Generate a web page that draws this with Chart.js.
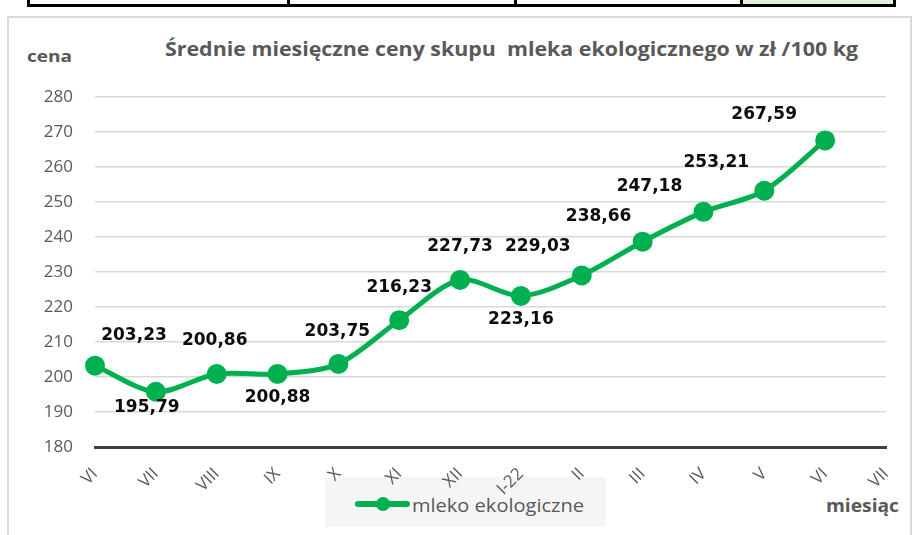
<!DOCTYPE html>
<html>
<head>
<meta charset="utf-8">
<script src="https://cdn.jsdelivr.net/npm/chart.js@4"></script>
<style>
    body { margin: 0; background: #fff; }
    #wrap { position: relative; width: 917px; height: 535px; overflow: hidden; font-family: "Open Sans", sans-serif; }
    #frame { position: absolute; left: 7px; top: 16px; width: 905px; height: 530px; border: 2px solid #d9d9d9; box-sizing: border-box; }
    .strip { position: absolute; top: 0; height: 7px; border-right: 3px solid #000; border-bottom: 3px solid #000; box-sizing: border-box; }
    .txt { position: absolute; color: #595959; white-space: pre; transform-origin: 0 50%; }
    #legend { position: absolute; left: 325px; top: 477px; width: 281px; height: 50px; background: #f5f5f5; }
    #legend .line { position: absolute; left: 30px; top: 27px; width: 55px; height: 6px; margin-top: -3px; background: #00b050; border-radius: 3px; }
    #legend .dot { position: absolute; left: 51px; top: 23px; width: 14px; height: 14px; margin-top: -3px; background: #00b050; border-radius: 50%; }
    canvas { position: absolute; left: 0; top: 0; }
</style>
</head>
<body>
<div id="wrap">
    <div class="strip" style="left:27px;width:263px;border-left:3px solid #000;"></div>
    <div class="strip" style="left:290px;width:227px;"></div>
    <div class="strip" style="left:517px;width:226px;"></div>
    <div class="strip" style="left:743px;width:153px;background:#e2f0d9;"></div>
    <div id="frame"></div>
    <div class="txt" data-w="45" style="left:27px;top:45px;font-size:16px;font-weight:bold;">cena</div>
    <div class="txt" data-w="693" style="left:165px;top:36px;font-size:19px;font-weight:bold;">Średnie miesięczne ceny skupu  mleka ekologicznego w zł /100 kg</div>
    <div class="txt" data-w="73" style="left:826px;top:494px;font-size:17px;font-weight:bold;">miesiąc</div>
    <div id="legend">
        <div class="line"></div>
        <div class="dot"></div>
        <div class="txt" data-w="172" style="left:87px;top:16px;font-size:18px;">mleko ekologiczne</div>
    </div>
    <canvas id="lineGraph" width="917" height="535"></canvas>
</div>
<script>
"use strict";

const months = ["VI", "VII", "VIII", "IX", "X", "XI", "XII", "I-22", "II", "III", "IV", "V", "VI", "VII"];
const prices = [203.23, 195.79, 200.86, 200.88, 203.75, 216.23, 227.73, 223.16, 229.03, 238.66, 247.18, 253.21, 267.59, null];
const yTicks = [180, 190, 200, 210, 220, 230, 240, 250, 260, 270, 280];

// where each value label sits relative to its point (px)
const labelShift = [
    [39, -30], [-9, 16], [-2, -33], [0, 24], [-1, -32], [0, -33], [0, -33],
    [0, 24], [-44, -29], [-44, -25], [-54, -25], [-48, -28], [-61, -26]
];

// the original text is a bit wider than our fonts, stretch to fit
function fitTexts()
{
    for (const el of document.querySelectorAll(".txt[data-w]")) {
        const w = el.getBoundingClientRect().width;
        el.style.transform = `scaleX(${el.dataset.w / w})`;
    }
}

function formatValue(v)
{
    return v.toFixed(2).replace(".", ",");
}

const valueLabels = {
    id: "valueLabels",
    afterDatasetsDraw(chart) {
        const ctx = chart.ctx;
        const meta = chart.getDatasetMeta(0);
        ctx.save();
        ctx.font = "bold 17px 'DejaVu Sans'";
        ctx.fillStyle = "#0d0d0d";
        ctx.textAlign = "center";
        ctx.textBaseline = "middle";
        meta.data.forEach((pt, i) => {
            if (prices[i] === null)
                return;
            const s = labelShift[i];
            ctx.fillText(formatValue(prices[i]), pt.x + s[0], pt.y + s[1]);
        });
        ctx.restore();
    }
};

fitTexts();

new Chart("lineGraph", {
    type: "line",
    data: {
        labels: months,
        datasets: [{
            label: "mleko ekologiczne",
            data: prices,
            borderColor: "#00b050",
            backgroundColor: "#00b050",
            borderWidth: 5,
            pointRadius: 10,
            pointBorderWidth: 0,
            pointBackgroundColor: "#00b050",
            tension: 0.3,
            clip: false,
            fill: false
        }]
    },
    options: {
        responsive: false,
        animation: false,
        layout: { padding: { left: 0, right: 31, top: 97, bottom: 0 } },
        plugins: {
            legend: { display: false },
            tooltip: { enabled: false }
        },
        scales: {
            x: {
                offset: false,
                grid: { display: false },
                border: { display: true, color: "#404040", width: 3 },
                ticks: {
                    autoSkip: false,
                    minRotation: 45,
                    maxRotation: 45,
                    padding: 9,
                    color: "#595959",
                    font: { family: "Open Sans", size: 17 }
                },
                afterFit(scale) { scale.height = 88; }
            },
            y: {
                min: yTicks[0],
                max: yTicks[yTicks.length - 1],
                afterBuildTicks(scale) { scale.ticks = yTicks.map(v => ({ value: v })); },
                grid: { color: "#d9d9d9", lineWidth: 1.5, drawTicks: false },
                border: { display: false },
                ticks: {
                    padding: 22,
                    color: "#595959",
                    font: { family: "Open Sans", size: 17 }
                },
                afterFit(scale) { scale.width = 95; }
            }
        }
    },
    plugins: [valueLabels]
});
</script>
</body>
</html>
